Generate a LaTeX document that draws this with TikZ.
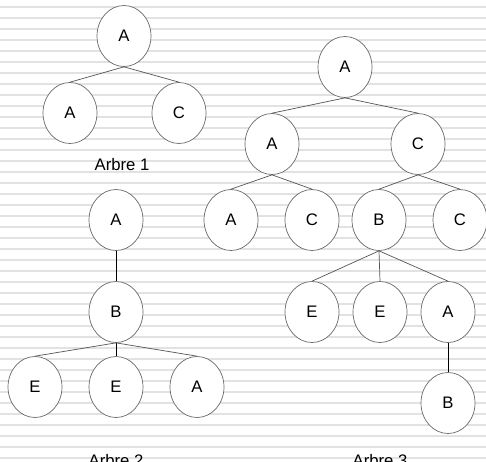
\documentclass[tikz,border=0pt]{standalone}
\usepackage{fontspec}
\setmainfont{Liberation Sans}
\usepackage{xcolor}
\usetikzlibrary{shapes.geometric}
\definecolor{Stripe_Gray}{HTML}{E2E2E2}
\definecolor{Edge_Gray}{HTML}{555555}
\definecolor{Ring_Gray}{HTML}{6A6A6A}

\tikzset{
    treenode/.style={ellipse, draw=Ring_Gray, line width=0.4pt, fill=white, minimum width=1.08cm, minimum height=1.22cm, inner sep=0pt, font=\fontsize{9.5}{11}\selectfont},
    treeedge/.style={draw=Edge_Gray, line width=0.4pt},
    treelabel/.style={font=\fontsize{9.5}{11}\selectfont}
}

\begin{document}
\begin{tikzpicture}[x=0.02cm, y=-0.02cm]
    % Page frame and striped background
    \clip (0,0) rectangle (486,461);
    \useasboundingbox (0,0) rectangle (486,461);
    \fill[white] (0,0) rectangle (486,461);
    \foreach \k in {0,...,41}
        \fill[Stripe_Gray] (0,{6+11*\k}) rectangle (486,{8+11*\k});

    % Arbre 1
    \node[treenode] (t1a) at (124,36) {A};
    \node[treenode] (t1b) at (70,113) {A};
    \node[treenode] (t1c) at (179,113) {C};
    \draw[treeedge] (t1a.south) -- (t1b.north);
    \draw[treeedge] (t1a.south) -- (t1c.north);
    \node[treelabel] (arbre1) at (122,165) {Arbre 1};

    % Arbre 2
    \node[treenode] (t2a) at (116,220) {A};
    \node[treenode] (t2b) at (116,312) {B};
    \node[treenode] (t2e1) at (35,387) {E};
    \node[treenode] (t2e2) at (116,387) {E};
    \node[treenode] (t2a2) at (197,387) {A};
    \draw[treeedge, draw=black] (t2a.south) -- (t2b.north);
    \draw[treeedge] (t2b.south) -- (t2e1.north);
    \draw[treeedge, draw=black] (t2b.south) -- (t2e2.north);
    \draw[treeedge] (t2b.south) -- (t2a2.north);
    \node[treelabel, anchor=base] (arbre2) at (116,466) {Arbre 2};

    % Arbre 3
    \node[treenode] (t3a) at (345,67) {A};
    \node[treenode] (t3b) at (272,144) {A};
    \node[treenode] (t3c) at (418,144) {C};
    \node[treenode] (t3d) at (231,220) {A};
    \node[treenode] (t3e) at (312,220) {C};
    \node[treenode] (t3f) at (379,220) {B};
    \node[treenode] (t3g) at (460,220) {C};
    \node[treenode] (t3h) at (312,312) {E};
    \node[treenode] (t3i) at (380,312) {E};
    \node[treenode] (t3j) at (448,312) {A};
    \node[treenode] (t3k) at (448,403) {B};
    \draw[treeedge] (t3a.south) -- (t3b.north);
    \draw[treeedge] (t3a.south) -- (t3c.north);
    \draw[treeedge] (t3b.south) -- (t3d.north);
    \draw[treeedge] (t3b.south) -- (t3e.north);
    \draw[treeedge] (t3c.south) -- (t3f.north);
    \draw[treeedge] (t3c.south) -- (t3g.north);
    \draw[treeedge] (t3f.south) -- (t3h.north);
    \draw[treeedge] (t3f.south) -- (t3i.north);
    \draw[treeedge] (t3f.south) -- (t3j.north);
    \draw[treeedge, draw=black] (t3j.south) -- (t3k.north);
    \node[treelabel, anchor=base] (arbre3) at (380,466) {Arbre 3};
\end{tikzpicture}
\end{document}
